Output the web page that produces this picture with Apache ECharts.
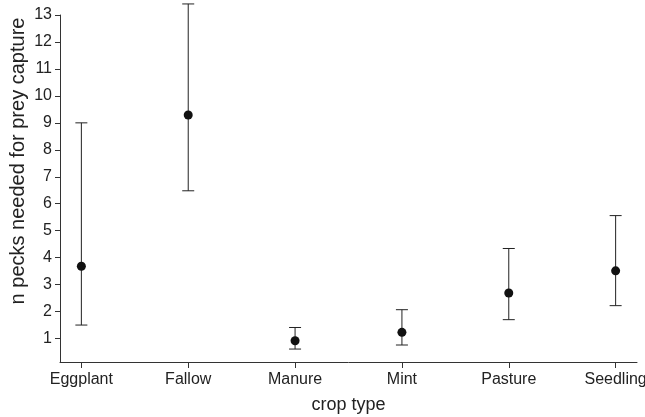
<!DOCTYPE html>
<html>
<head>
<meta charset="utf-8">
<script src="https://cdn.jsdelivr.net/npm/echarts@6/dist/echarts.min.js"></script>
<style>html,body{margin:0;padding:0;background:#fff;}#c{width:645px;height:417px;}</style>
</head>
<body>
<div id="c"></div>
<script>
var categories = ['Eggplant', 'Fallow', 'Manure', 'Mint', 'Pasture', 'Seedling'];
var means = [3.68, 9.29, 0.92, 1.23, 2.69, 3.51];
var lower = [1.50, 6.48, 0.61, 0.76, 1.70, 2.22];
var upper = [9.00, 13.41, 1.41, 2.07, 4.34, 5.56];
var yTicks = [1, 2, 3, 4, 5, 6, 7, 8, 9, 10, 11, 12, 13];
var xTitle = 'crop type';
var yTitle = 'n pecks needed for prey capture';

var pos = categories.map(function (c, i) { return i + 1; });
var errData = categories.map(function (c, i) { return [pos[i], lower[i], upper[i]]; });
var ptData = categories.map(function (c, i) { return [pos[i], means[i]]; });

var chart = echarts.init(document.getElementById('c'), null, {renderer: 'canvas'});
var txt = '#222';
var axisCol = '#333';
var ff = 'Liberation Sans, Arial, sans-serif';
chart.setOption({
  animation: false,
  backgroundColor: '#fff',
  grid: {left: 60, right: 8, top: 15, bottom: 55, outerBoundsMode: 'none', containLabel: false},
  xAxis: {
    type: 'value', min: 0.8, max: 6.2,
    splitLine: {show: false},
    axisLine: {show: true, lineStyle: {color: axisCol, width: 1}},
    axisTick: {show: true, customValues: pos, length: 6, lineStyle: {color: axisCol}},
    axisLabel: {customValues: pos, margin: 10, color: txt, fontFamily: ff, fontSize: 16,
      formatter: function (v) { return categories[Math.round(v) - 1] || ''; }},
    name: xTitle, nameLocation: 'middle', nameGap: 34,
    nameTextStyle: {color: txt, fontFamily: ff, fontSize: 18}
  },
  yAxis: {
    type: 'value', min: 0.13, max: 13,
    splitLine: {show: false},
    axisLine: {show: true, lineStyle: {color: axisCol, width: 1}},
    axisTick: {show: true, customValues: yTicks, length: 5, lineStyle: {color: axisCol}},
    axisLabel: {customValues: yTicks, margin: 8, color: txt, fontFamily: ff, fontSize: 16}
  },
  graphic: [{
    type: 'text', x: 18, y: 161, rotation: Math.PI / 2,
    style: {text: yTitle, fill: txt, font: '20px "Liberation Sans", Arial, sans-serif', textAlign: 'center', textVerticalAlign: 'middle'}
  }],
  series: [{
    type: 'custom', clip: false, silent: true,
    data: errData,
    renderItem: function (params, api) {
      var x = api.value(0);
      var lo = api.coord([x, api.value(1)]);
      var hi = api.coord([x, api.value(2)]);
      var hw = 6;
      var st = {stroke: '#222', lineWidth: 1};
      return {type: 'group', children: [
        {type: 'line', shape: {x1: lo[0], y1: lo[1], x2: hi[0], y2: hi[1]}, style: st},
        {type: 'line', shape: {x1: lo[0] - hw, y1: lo[1], x2: lo[0] + hw, y2: lo[1]}, style: st},
        {type: 'line', shape: {x1: hi[0] - hw, y1: hi[1], x2: hi[0] + hw, y2: hi[1]}, style: st}
      ]};
    }
  }, {
    type: 'scatter', data: ptData, symbol: 'circle', symbolSize: 9, silent: true,
    itemStyle: {color: '#111', opacity: 1}, z: 5
  }]
});
</script>
</body>
</html>
